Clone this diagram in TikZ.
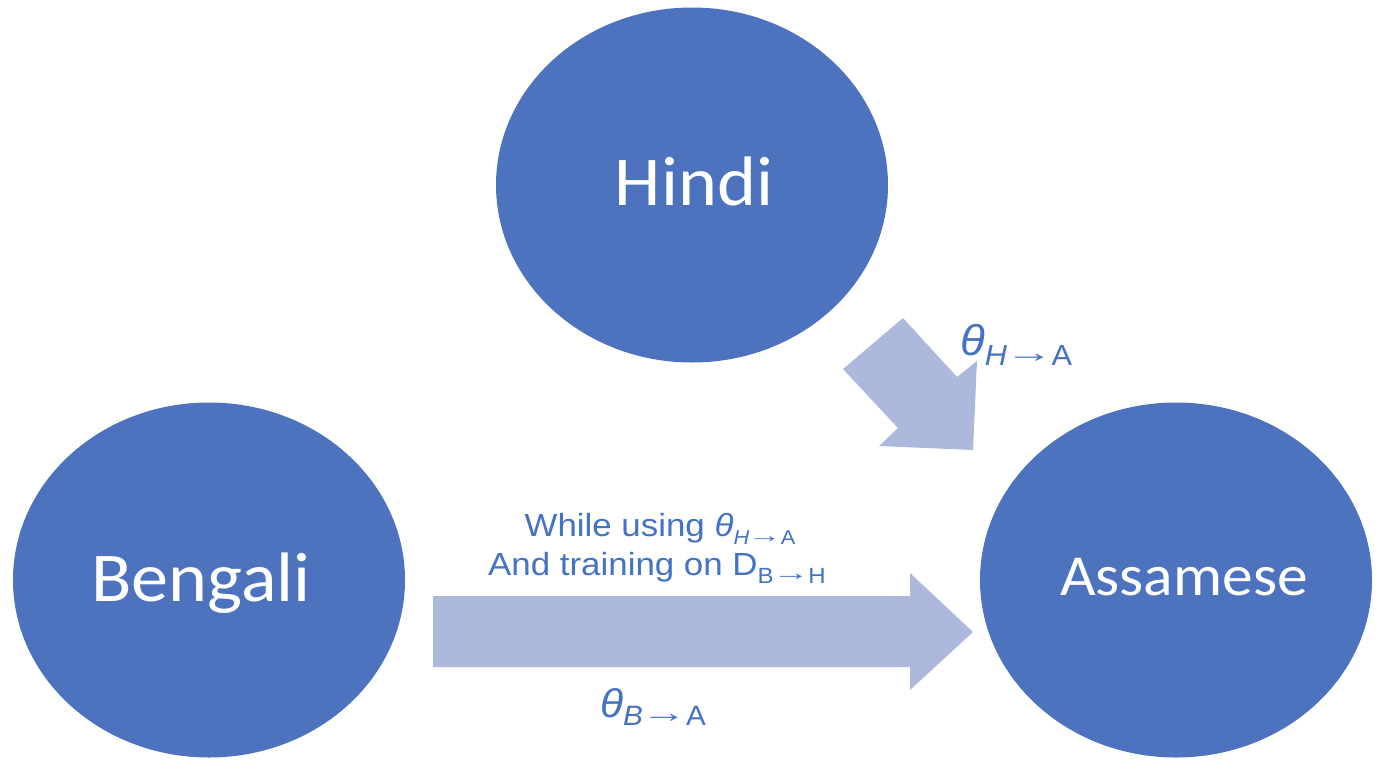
\documentclass[tikz,border=0pt]{standalone}
\usepackage{fontspec}
\usepackage{graphicx}
\setmainfont{Liberation Sans}
\newfontfamily\calibrifont{Carlito}
\usetikzlibrary{shapes.geometric}
\definecolor{circblue}{RGB}{78,115,190}
\definecolor{arrowblue}{RGB}{173,185,220}
\definecolor{textblue}{RGB}{68,114,196}
\newcommand\hs[1]{\scalebox{1.06}[1]{#1}}
\newcommand\hsw[1]{\scalebox{1.09}[1]{#1}}
\newcommand\lowsub[3]{\raisebox{-#1}{\fontsize{#2}{#2}\selectfont #3}}
\newcommand\myarr{\hspace{-0.06em}\raisebox{0.1em}{\scalebox{1.55}[1]{→}}\hspace{-0.04em}}
\begin{document}
\begin{tikzpicture}[x=1pt,y=-1pt,
  lang/.style={ellipse, fill=circblue, draw=none, inner sep=0pt,
    minimum width=392pt, minimum height=355pt},
  langtext/.style={text=white, inner sep=0pt, anchor=base},
  blockarrow/.style={fill=arrowblue, draw=none},
  lbl/.style={text=textblue, inner sep=0pt}]
\path[use as bounding box, fill=white] (0,0) rectangle (1382,772);
\node[lang] (hindi) at (692,185) {};
\node[lang] (bengali) at (209,580) {};
\node[lang] (assamese) at (1176,580) {};
\node[langtext] (hinditxt) at (694,205) {\calibrifont\fontsize{70}{70}\selectfont\hs{Hindi}};
\node[langtext] (bengalitxt) at (201,601) {\calibrifont\fontsize{70}{70}\selectfont\hs{Bengali}};
\node[langtext] (assamesetxt) at (1184,595) {\calibrifont\fontsize{58}{58}\selectfont\hs{Assamese}};
% block arrows
\path[blockarrow] (433,596) -- (910,596) -- (910,573) -- (973,632) -- (910,690) -- (910,667) -- (433,667) -- cycle;
\path[blockarrow] (843,369) -- (903,318) -- (957,377) -- (977,361) -- (973,450) -- (879,446) -- (898,428) -- cycle;
% labels
\node[lbl, anchor=base west] (thHA) at (960,355)
  {\hs{\fontsize{43}{43}\selectfont\textit{θ}\lowsub{10pt}{29}{\textit{H}\myarr A}}};
\node[lbl, anchor=base] (line1) at (660,536)
  {\hsw{\fontsize{32}{32}\selectfont While using \textit{θ}\lowsub{8pt}{20}{\textit{H}\myarr A}}};
\node[lbl, anchor=base] (line2) at (657,575)
  {\hsw{\fontsize{32}{32}\selectfont And training on D\lowsub{8pt}{22}{B\myarr H}}};
\node[lbl, anchor=base west] (thBA) at (600,717)
  {\hs{\fontsize{40}{40}\selectfont\textit{θ}\lowsub{8pt}{28}{\textit{B}\myarr A}}};
\end{tikzpicture}
\end{document}
